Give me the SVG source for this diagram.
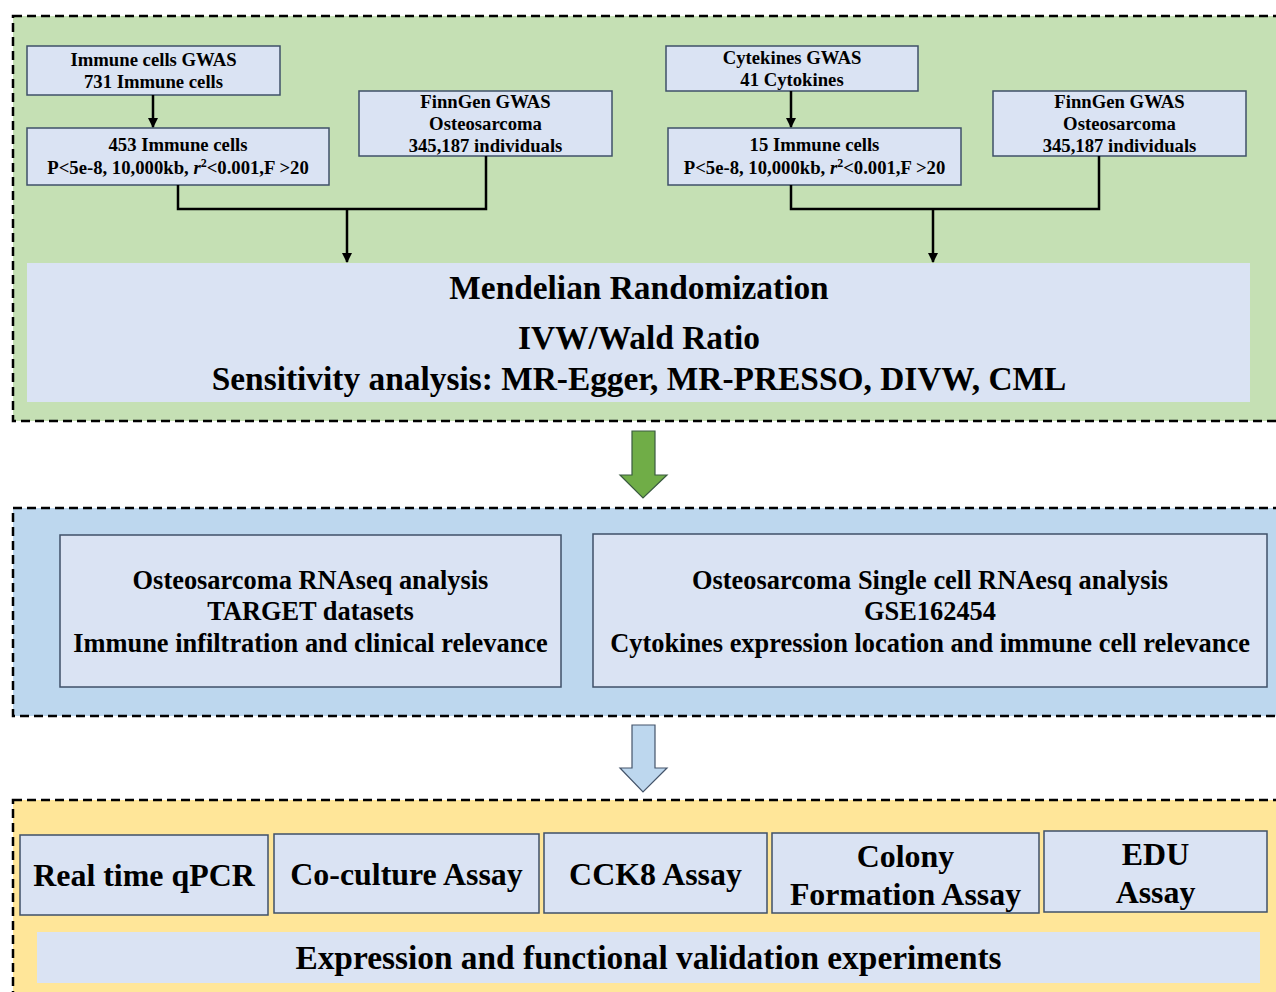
<svg xmlns="http://www.w3.org/2000/svg" width="1276" height="992" viewBox="0 0 1276 992">
<defs>
<style>
.panel{stroke:#000;stroke-width:2.5;stroke-dasharray:9 5}
.box{fill:#dae3f3;stroke:#3f5068;stroke-width:1.5}
.plain{fill:#dae3f3;stroke:none}
.t{font-family:"Liberation Serif","Times New Roman",serif;font-weight:bold;fill:#000;text-anchor:middle}
.s{font-size:18.7px}
.m{font-size:26.4px}
.l{font-size:31.9px}
.xl{font-size:33.4px}
.conn{fill:none;stroke:#000;stroke-width:2.5}
</style>
<marker id="ah" viewBox="0 0 10 10" refX="9" refY="5" markerWidth="4" markerHeight="4" orient="auto" markerUnits="strokeWidth">
<path d="M0,0 L10,5 L0,10 z" fill="#000"/>
</marker>
</defs>
<rect width="1276" height="992" fill="#fff"/>
<g id="panel-mr">
<rect class="panel" x="13" y="16" width="1290" height="405" fill="#c5e0b4"/>
</g>
<g id="panel-rna">
<rect class="panel" x="13" y="508" width="1290" height="208" fill="#bdd7ee"/>
</g>
<g id="panel-exp">
<rect class="panel" x="13" y="800" width="1290" height="210" fill="#ffe699"/>
</g>
<g id="n-immune-gwas">
<rect class="box" x="27" y="46" width="253" height="49"/>
<text class="t s" x="153.5" y="66">Immune cells GWAS</text>
<text class="t s" x="153.5" y="88">731 Immune cells</text>
</g>
<g id="n-453">
<rect class="box" x="27" y="128" width="302" height="57"/>
<text class="t s" x="178" y="151">453 Immune cells</text>
<text class="t s" x="178" y="174">P&lt;5e-8, 10,000kb, <tspan font-style="italic">r</tspan><tspan font-size="12" dy="-7">2</tspan><tspan dy="7">&lt;0.001,F &gt;20</tspan></text>
</g>
<g id="n-finngen-1">
<rect class="box" x="359" y="91" width="253" height="65"/>
<text class="t s" x="485.5" y="108">FinnGen GWAS</text>
<text class="t s" x="485.5" y="130">Osteosarcoma</text>
<text class="t s" x="485.5" y="152">345,187 individuals</text>
</g>
<g id="n-cyto-gwas">
<rect class="box" x="666" y="46" width="252" height="45"/>
<text class="t s" x="792" y="64">Cytekines GWAS</text>
<text class="t s" x="792" y="86">41 Cytokines</text>
</g>
<g id="n-15">
<rect class="box" x="668" y="128" width="293" height="57"/>
<text class="t s" x="814.5" y="151">15 Immune cells</text>
<text class="t s" x="814.5" y="174">P&lt;5e-8, 10,000kb, <tspan font-style="italic">r</tspan><tspan font-size="12" dy="-7">2</tspan><tspan dy="7">&lt;0.001,F &gt;20</tspan></text>
</g>
<g id="n-finngen-2">
<rect class="box" x="993" y="91" width="253" height="65"/>
<text class="t s" x="1119.5" y="108">FinnGen GWAS</text>
<text class="t s" x="1119.5" y="130">Osteosarcoma</text>
<text class="t s" x="1119.5" y="152">345,187 individuals</text>
</g>
<g id="n-mr">
<rect class="plain" x="27" y="263" width="1223" height="139"/>
<text class="t xl" x="639" y="299">Mendelian Randomization</text>
<text class="t xl" x="639" y="349">IVW/Wald Ratio</text>
<text class="t xl" x="639" y="390">Sensitivity analysis: MR-Egger, MR-PRESSO, DIVW, CML</text>
</g>
<g id="n-rnaseq">
<rect class="box" x="60" y="535" width="501" height="152"/>
<text class="t m" x="310.5" y="589">Osteosarcoma RNAseq analysis</text>
<text class="t m" x="310.5" y="620">TARGET datasets</text>
<text class="t m" x="310.5" y="652">Immune infiltration and clinical relevance</text>
</g>
<g id="n-scrna">
<rect class="box" x="593" y="534" width="674" height="153"/>
<text class="t m" x="930" y="589">Osteosarcoma Single cell RNAesq analysis</text>
<text class="t m" x="930" y="620">GSE162454</text>
<text class="t m" x="930" y="652">Cytokines expression location and immune cell relevance</text>
</g>
<g id="n-qpcr">
<rect class="box" x="20" y="835" width="248" height="80"/>
<text class="t l" x="144" y="886">Real time qPCR</text>
</g>
<g id="n-coculture">
<rect class="box" x="274" y="834" width="265" height="79"/>
<text class="t l" x="406.5" y="885">Co-culture Assay</text>
</g>
<g id="n-cck8">
<rect class="box" x="544" y="833" width="223" height="80"/>
<text class="t l" x="655.5" y="885">CCK8 Assay</text>
</g>
<g id="n-colony">
<rect class="box" x="772" y="833" width="267" height="80"/>
<text class="t l" x="905.5" y="867">Colony</text>
<text class="t l" x="905.5" y="905">Formation Assay</text>
</g>
<g id="n-edu">
<rect class="box" x="1044" y="831" width="223" height="81"/>
<text class="t l" x="1155.5" y="865">EDU</text>
<text class="t l" x="1155.5" y="903">Assay</text>
</g>
<g id="n-validation">
<rect class="plain" x="37" y="932" width="1223" height="51"/>
<text class="t xl" x="648.5" y="969">Expression and functional validation experiments</text>
</g>
<g id="connectors">
<line class="conn" x1="153" y1="95" x2="153" y2="127" marker-end="url(#ah)"/>
<path class="conn" d="M178,185 V209 H486 V156"/>
<line class="conn" x1="347" y1="209" x2="347" y2="262" marker-end="url(#ah)"/>
<line class="conn" x1="791" y1="91" x2="791" y2="127" marker-end="url(#ah)"/>
<path class="conn" d="M791,185 V209 H1099 V156"/>
<line class="conn" x1="933" y1="209" x2="933" y2="262" marker-end="url(#ah)"/>
<path d="M632,431 H655 V475 H667 L643,498 L620,475 H632 Z" fill="#70ad47" stroke="#3a5a40" stroke-width="1.2"/>
<path d="M632,725 H655 V768 H667 L643,792 L620,768 H632 Z" fill="#bdd7ee" stroke="#44546a" stroke-width="1.2"/>
</g>
</svg>
